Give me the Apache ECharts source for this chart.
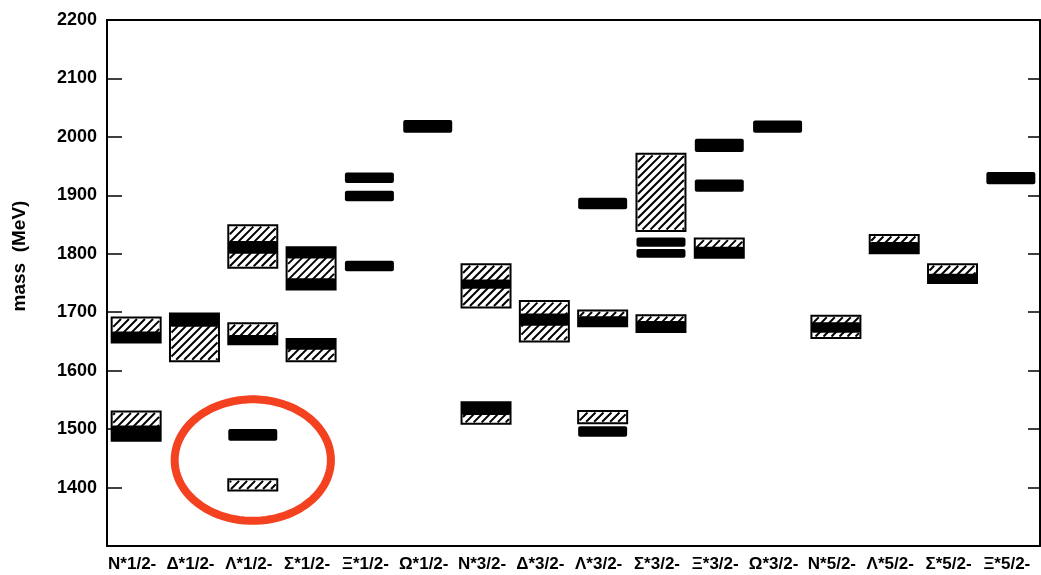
<!DOCTYPE html>
<html>
<head>
<meta charset="utf-8">
<script src="https://cdn.jsdelivr.net/npm/echarts@6/dist/echarts.min.js"></script>
<style>
html,body{margin:0;padding:0;background:#fff;}
#chart{width:1041px;height:575px;}
</style>
</head>
<body>
<div id="chart"></div>
<script>
// Categories (baryon resonance families)
const categories = ['N*1/2-','Δ*1/2-','Λ*1/2-','Σ*1/2-','Ξ*1/2-','Ω*1/2-','N*3/2-','Δ*3/2-','Λ*3/2-','Σ*3/2-','Ξ*3/2-','Ω*3/2-','N*5/2-','Λ*5/2-','Σ*5/2-','Ξ*5/2-'];
// Y tick values (MeV)
const yTicks = [1300, 1400, 1500, 1600, 1700, 1800, 1900, 2000, 2100, 2200];
// Hatched boxes: [category index, low mass, high mass]
const hatchedBoxes = [
  [0, 1648, 1691], [0, 1480, 1530],
  [1, 1616, 1698],
  [2, 1776, 1849], [2, 1645, 1681], [2, 1395, 1414],
  [3, 1739, 1811], [3, 1616, 1654],
  [6, 1708, 1782], [6, 1509, 1546],
  [7, 1650, 1719],
  [8, 1676, 1703], [8, 1510, 1531],
  [9, 1839, 1971], [9, 1666, 1695],
  [10, 1793, 1826],
  [12, 1656, 1694],
  [13, 1801, 1832],
  [14, 1750, 1782]
];
// Solid (black) bars: [category index, low mass, high mass]
const solidBars = [
  [0, 1648, 1667], [0, 1480, 1506],
  [1, 1675, 1698],
  [2, 1800, 1822], [2, 1645, 1661], [2, 1480, 1500],
  [3, 1792, 1811], [3, 1739, 1758], [3, 1636, 1654],
  [4, 1921, 1939], [4, 1890, 1908], [4, 1770, 1788],
  [5, 2007, 2029],
  [6, 1740, 1756], [6, 1524, 1546],
  [7, 1677, 1698],
  [8, 1876, 1896], [8, 1676, 1693], [8, 1487, 1505],
  [9, 1812, 1828], [9, 1793, 1808], [9, 1666, 1685],
  [10, 1974, 1997], [10, 1906, 1927], [10, 1793, 1812],
  [11, 2007, 2028],
  [12, 1665, 1683],
  [13, 1801, 1820],
  [14, 1750, 1766],
  [15, 1919, 1940]
];
// Red circled annotation: [category index, centre mass, half-height in MeV, half-width in bands]
const annotation = [[2, 1447, 104, 1.34]];

const BAR_FRAC = 0.84;
const HATCH_STEP = 8;

function boxGeom(api) {
  const top = api.coord([api.value(0), api.value(2)]);
  const bot = api.coord([api.value(0), api.value(1)]);
  const bw = api.size([1, 0])[0] * BAR_FRAC;
  return { x0: top[0] - bw / 2, x1: top[0] + bw / 2, y0: top[1], y1: bot[1] };
}

function renderHatched(params, api) {
  const g = boxGeom(api);
  const children = [{
    type: 'rect',
    shape: { x: g.x0, y: g.y0, width: g.x1 - g.x0, height: g.y1 - g.y0 },
    style: { fill: '#fff', stroke: '#000', lineWidth: 2 }
  }];
  const ix0 = g.x0 + 1.5, ix1 = g.x1 - 1.5, iy0 = g.y0 + 1.5, iy1 = g.y1 - 1.5;
  const cStart = Math.ceil((ix0 + iy0) / HATCH_STEP) * HATCH_STEP;
  for (let c = cStart; c <= ix1 + iy1; c += HATCH_STEP) {
    const xa = Math.max(ix0, c - iy1), xb = Math.min(ix1, c - iy0);
    if (xb - xa < 0.5) continue;
    children.push({
      type: 'line',
      shape: { x1: xa, y1: c - xa, x2: xb, y2: c - xb },
      style: { stroke: '#000', lineWidth: 2 }
    });
  }
  return { type: 'group', children: children };
}

function renderSolid(params, api) {
  const g = boxGeom(api);
  return {
    type: 'rect',
    shape: { x: g.x0, y: g.y0, width: g.x1 - g.x0, height: g.y1 - g.y0, r: 2 },
    style: { fill: '#000' }
  };
}

function renderEllipse(params, api) {
  const c = api.coord([api.value(0), api.value(1)]);
  const ry = api.size([0, api.value(2)])[1];
  const rx = api.size([1, 0])[0] * api.value(3);
  const pts = [];
  const n = 90;
  for (let i = 0; i < n; i++) {
    const a = (i / n) * Math.PI * 2;
    pts.push([c[0] + rx * Math.cos(a), c[1] + ry * Math.sin(a)]);
  }
  return {
    type: 'polygon',
    shape: { points: pts },
    style: { fill: 'none', stroke: '#f4411f', lineWidth: 8, lineJoin: 'round' }
  };
}

const chart = echarts.init(document.getElementById('chart'), null, { renderer: 'canvas' });
const labelFont = 'Liberation Sans';
chart.setOption({
  animation: false,
  backgroundColor: '#fff',
  grid: { left: 107, right: 1, top: 20, bottom: 29, containLabel: false },
  xAxis: [{
    type: 'category',
    data: categories,
    position: 'bottom',
    boundaryGap: true,
    axisLine: { lineStyle: { color: '#000', width: 2 } },
    axisTick: { inside: true, length: 15, lineStyle: { color: '#000', width: 1.5 } },
    axisLabel: { interval: 0, color: '#000', fontFamily: labelFont, fontWeight: 'bold', fontSize: 17, margin: 10, padding: [0, 8, 0, 0] },
    splitLine: { show: false }
  }, {
    type: 'category',
    data: categories,
    position: 'top',
    boundaryGap: true,
    axisLine: { lineStyle: { color: '#000', width: 2 } },
    axisTick: { inside: true, length: 15, lineStyle: { color: '#000', width: 1.5 } },
    axisLabel: { show: false },
    splitLine: { show: false }
  }],
  yAxis: [{
    type: 'value',
    min: yTicks[0],
    max: yTicks[yTicks.length - 1],
    interval: 100,
    position: 'left',
    name: 'mass  (MeV)',
    nameLocation: 'middle',
    nameRotate: 90,
    nameGap: 78,
    nameTextStyle: { color: '#000', fontFamily: labelFont, fontWeight: 'bold', fontSize: 19, padding: [0, 0, 0, 54] },
    axisLine: { show: true, lineStyle: { color: '#000', width: 2 } },
    axisTick: { show: true, inside: true, length: 15, lineStyle: { color: '#000', width: 1.5 } },
    axisLabel: {
      color: '#000', fontFamily: labelFont, fontWeight: 'bold', fontSize: 18, margin: 10,
      formatter: function (v) { return (v === yTicks[0]) ? '' : String(v); }
    },
    splitLine: { show: false }
  }, {
    type: 'value',
    min: yTicks[0],
    max: yTicks[yTicks.length - 1],
    interval: 100,
    position: 'right',
    axisLine: { show: true, lineStyle: { color: '#000', width: 2 } },
    axisTick: { show: true, inside: true, length: 12, lineStyle: { color: '#000', width: 1.5 } },
    axisLabel: { show: false },
    splitLine: { show: false }
  }],
  series: [{
    type: 'custom',
    name: 'hatched',
    xAxisIndex: 0, yAxisIndex: 0,
    renderItem: renderHatched,
    data: hatchedBoxes,
    encode: { x: 0, y: [1, 2] },
    silent: true, z: 2
  }, {
    type: 'custom',
    name: 'solid',
    xAxisIndex: 0, yAxisIndex: 0,
    renderItem: renderSolid,
    data: solidBars,
    encode: { x: 0, y: [1, 2] },
    silent: true, z: 3
  }, {
    type: 'custom',
    name: 'circled',
    xAxisIndex: 0, yAxisIndex: 0,
    renderItem: renderEllipse,
    data: annotation,
    encode: { x: 0, y: 1 },
    silent: true, z: 4
  }]
});
</script>
</body>
</html>
